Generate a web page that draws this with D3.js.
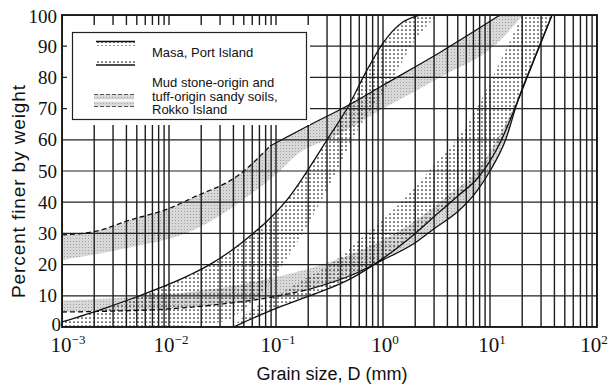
<!DOCTYPE html>
<html>
<head>
<meta charset="utf-8">
<script src="https://cdn.jsdelivr.net/npm/d3@7/dist/d3.min.js"></script>
<style>
  body { margin: 0; background: #fff; }
</style>
</head>
<body>
<div class="canvas"></div>
<script>
// values: [grain size D in mm, percent finer]
const yTicks = [0, 10, 20, 30, 40, 50, 60, 70, 80, 90, 100]
const xExponents = [-3, -2, -1, 0, 1, 2]

// Masa, Port Island : fine limit (dots on its lower side)
const masaFineEdge = [[0.001, 1.6], [0.0025, 6], [0.005, 9.7], [0.0157, 16.7], [0.024, 20], [0.04, 25], [0.061, 30], [0.08, 33.5], [0.1, 36.8], [0.125, 40.5], [0.16, 45.5], [0.2, 50.5], [0.3, 60], [0.47, 70.5], [0.7, 82], [1.0, 91], [1.5, 97.5], [2.2, 100]]
const masaFineInner = [[0.001, 0], [0.01, 0.3], [0.03, 1.5], [0.06, 8], [0.1, 17], [0.2, 33], [0.3, 44], [0.6, 64], [1.24, 80], [2, 92], [3.2, 100]]

// Masa, Port Island : coarse limit (dots on its upper side)
const masaCoarseEdge = [[0.04, 0], [0.05, 1.5], [0.1, 6], [0.2, 9.8], [0.5, 15.5], [1, 22], [2, 30], [3.4, 37], [5, 42], [7.8, 48], [12, 58], [18, 72], [26, 86], [38, 100]]
const masaCoarseInner = [[0.04, 0], [0.05, 3.5], [0.1, 10], [0.2, 16], [0.35, 21], [0.6, 28], [0.9, 33], [1.9, 44], [2.7, 50], [6.4, 66], [12.4, 85], [20, 100]]

// Rokko Island : fine limit, dashed part then solid part (gray below)
const rokkoFineDashed = [[0.001, 29.5], [0.00226, 31], [0.00405, 34], [0.01, 38], [0.0168, 41.5], [0.046, 49], [0.088, 58]]
const rokkoFineSolid = [[0.088, 58], [0.2, 64.5], [0.47, 71], [1.0, 77.5], [3.4, 88], [12.4, 100]]
const rokkoFineInner = [[0.001, 21.5], [0.00405, 25.3], [0.0168, 31], [0.046, 40], [0.1, 49], [0.168, 56], [0.33, 60.5], [0.94, 69.5], [3.4, 80], [11.7, 91], [20.3, 100]]

// Rokko Island : coarse limit, dashed part then solid part (gray above)
const rokkoCoarseDashed = [[0.001, 4.8], [0.003, 5.1], [0.01, 5.8], [0.03, 7.3], [0.1, 9.8], [0.2, 12]]
const rokkoCoarseSolid = [[0.2, 12], [0.5, 16.5], [1, 21.5], [2, 27], [3, 31.5], [5, 37], [7.5, 43.5], [10, 50], [14, 60], [18, 72], [26, 86], [38, 100]]
const rokkoCoarseInner = [[0.001, 8.5], [0.003, 9.2], [0.01, 10.5], [0.03, 12.5], [0.1, 16], [0.3, 20.5], [1, 28], [2, 34], [4, 42], [7.5, 50], [12, 61], [18, 73], [26, 87], [38, 100]]

const legendItems = ['Masa, Port Island', 'Mud stone-origin and', 'tuff-origin sandy soils,', 'Rokko Island']


const width = 609
const height = 385
const plot = { left: 62, right: 597, top: 15, bottom: 327 }

const svg = d3.select('.canvas')
    .append('svg')
    .attr('width', width)
    .attr('height', height)
    .style('display', 'block')

const xScale = d3.scaleLog().domain([1e-3, 1e2]).range([plot.left, plot.right])
const yScale = d3.scaleLinear().domain([0, 100]).range([plot.bottom, plot.top])

const defs = svg.append('defs')

defs.append('clipPath').attr('id', 'plotClip')
    .append('rect')
    .attr('x', plot.left).attr('y', plot.top)
    .attr('width', plot.right - plot.left).attr('height', plot.bottom - plot.top)

// dot stipple for Masa
const dots = defs.append('pattern').attr('id', 'dots')
    .attr('patternUnits', 'userSpaceOnUse').attr('width', 4).attr('height', 4)
dots.append('circle').attr('cx', 2).attr('cy', 2).attr('r', 0.85).attr('fill', '#1a1a1a')

// gray screen for Rokko
const grey = defs.append('pattern').attr('id', 'grey')
    .attr('patternUnits', 'userSpaceOnUse').attr('width', 3).attr('height', 3)
grey.append('rect').attr('width', 3).attr('height', 3).attr('fill', '#d8d8d8')
grey.append('rect').attr('x', 1).attr('y', 1).attr('width', 1).attr('height', 1).attr('fill', '#a0a0a0')

const lineGenerator = d3.line()
    .x(d => xScale(d[0]))
    .y(d => yScale(d[1]))
    .curve(d3.curveMonotoneX)

const bandPath = (edge, inner) =>
    lineGenerator(edge) + lineGenerator(inner.slice().reverse()).replace(/^M/, 'L') + 'Z'

const graph = svg.append('g').attr('clip-path', 'url(#plotClip)')

// bands
graph.append('path').attr('d', bandPath(rokkoFineDashed.concat(rokkoFineSolid.slice(1)), rokkoFineInner))
    .attr('fill', 'url(#grey)')
graph.append('path').attr('d', bandPath(rokkoCoarseDashed.concat(rokkoCoarseSolid.slice(1)), rokkoCoarseInner))
    .attr('fill', 'url(#grey)')
graph.append('path').attr('d', bandPath(masaFineEdge, masaFineInner))
    .attr('fill', 'url(#dots)')
graph.append('path').attr('d', bandPath(masaCoarseEdge, masaCoarseInner))
    .attr('fill', 'url(#dots)')

// grid
graph.append('g').selectAll('line')
    .data(xScale.ticks())
    .enter().append('line')
    .attr('x1', d => xScale(d)).attr('x2', d => xScale(d))
    .attr('y1', plot.top).attr('y2', plot.bottom)
    .attr('stroke', '#1e1e1e').attr('stroke-width', 1.4)

graph.append('g').selectAll('line')
    .data(yTicks)
    .enter().append('line')
    .attr('x1', plot.left).attr('x2', plot.right)
    .attr('y1', d => yScale(d)).attr('y2', d => yScale(d))
    .attr('stroke', '#222').attr('stroke-width', 1.2)

// curves
const curveStyle = (sel, dashed) => sel
    .attr('fill', 'none').attr('stroke', '#111').attr('stroke-width', 1.3)
    .attr('stroke-dasharray', dashed ? '5,3' : null)

graph.append('path').attr('d', lineGenerator(masaFineEdge)).call(curveStyle, false)
graph.append('path').attr('d', lineGenerator(masaCoarseEdge)).call(curveStyle, false)
graph.append('path').attr('d', lineGenerator(rokkoFineDashed)).call(curveStyle, true)
graph.append('path').attr('d', lineGenerator(rokkoFineSolid)).call(curveStyle, false)
graph.append('path').attr('d', lineGenerator(rokkoCoarseDashed)).call(curveStyle, true)
graph.append('path').attr('d', lineGenerator(rokkoCoarseSolid)).call(curveStyle, false)

// frame
svg.append('rect')
    .attr('x', plot.left).attr('y', plot.top)
    .attr('width', plot.right - plot.left).attr('height', plot.bottom - plot.top)
    .attr('fill', 'none').attr('stroke', '#111').attr('stroke-width', 1.8)

// legend (blanks the grid behind it)
const legend = svg.append('g')
legend.append('rect').attr('x', 67).attr('y', 25).attr('width', 243).attr('height', 100).attr('fill', '#fff')
legend.append('rect').attr('x', 72.5).attr('y', 32.5).attr('width', 234).attr('height', 87)
    .attr('fill', '#fff').attr('stroke', '#222').attr('stroke-width', 1.2)

legend.append('rect').attr('x', 96).attr('y', 42).attr('width', 39).attr('height', 4).attr('fill', 'url(#dots)')
legend.append('line').attr('x1', 96).attr('x2', 135).attr('y1', 41.5).attr('y2', 41.5).attr('stroke', '#111').attr('stroke-width', 1.3)
legend.append('rect').attr('x', 96).attr('y', 59).attr('width', 39).attr('height', 5).attr('fill', 'url(#dots)')
legend.append('line').attr('x1', 96).attr('x2', 135).attr('y1', 65).attr('y2', 65).attr('stroke', '#111').attr('stroke-width', 1.3)

legend.append('rect').attr('x', 94).attr('y', 94.5).attr('width', 40).attr('height', 5).attr('fill', 'url(#grey)')
legend.append('line').attr('x1', 94).attr('x2', 134).attr('y1', 94.5).attr('y2', 94.5)
    .attr('stroke', '#555').attr('stroke-width', 1).attr('stroke-dasharray', '4,2')
legend.append('rect').attr('x', 94).attr('y', 101.5).attr('width', 40).attr('height', 5).attr('fill', 'url(#grey)')
legend.append('line').attr('x1', 94).attr('x2', 134).attr('y1', 106.5).attr('y2', 106.5)
    .attr('stroke', '#555').attr('stroke-width', 1).attr('stroke-dasharray', '4,2')

legend.selectAll('text.item')
    .data(legendItems)
    .enter().append('text')
    .attr('class', 'item')
    .attr('x', 152)
    .attr('y', (d, i) => i === 0 ? 57 : 87 + (i - 1) * 13.5)
    .attr('font-family', 'Liberation Sans, Arial, sans-serif')
    .attr('font-size', 13)
    .attr('fill', '#111')
    .text(d => d)

// y tick labels
svg.append('g').selectAll('text')
    .data(yTicks)
    .enter().append('text')
    .attr('x', d => d === 0 ? 61 : 57)
    .attr('y', d => yScale(d) + (d === 100 ? 7.5 : d === 0 ? 4 : 6.5))
    .attr('text-anchor', 'end')
    .attr('font-family', 'Liberation Serif, Times New Roman, serif')
    .attr('font-size', 19)
    .attr('fill', '#111')
    .text(d => d)

// x tick labels 10^n
const xLabels = svg.append('g').selectAll('text')
    .data(xExponents)
    .enter().append('text')
    .attr('x', d => d === -3 ? 68 : d === 2 ? 594 : xScale(Math.pow(10, d)) + 2)
    .attr('y', 352)
    .attr('text-anchor', 'middle')
    .attr('font-family', 'Liberation Serif, Times New Roman, serif')
    .attr('fill', '#111')
xLabels.append('tspan').attr('font-size', 21).text('10')
xLabels.append('tspan').attr('font-size', 13).attr('dy', -8).text(d => d < 0 ? '\u2212' + (-d) : String(d))

// axis titles
svg.append('text')
    .attr('x', 332).attr('y', 380)
    .attr('text-anchor', 'middle')
    .attr('font-family', 'Liberation Sans, Arial, sans-serif')
    .attr('font-size', 18)
    .attr('fill', '#111')
    .text('Grain size, D (mm)')

svg.append('text')
    .attr('transform', 'translate(25,191) rotate(-90)')
    .attr('text-anchor', 'middle')
    .attr('font-family', 'Liberation Sans, Arial, sans-serif')
    .attr('font-size', 19)
    .attr('letter-spacing', 0.9)
    .attr('fill', '#111')
    .text('Percent finer by weight')
</script>
</body>
</html>
